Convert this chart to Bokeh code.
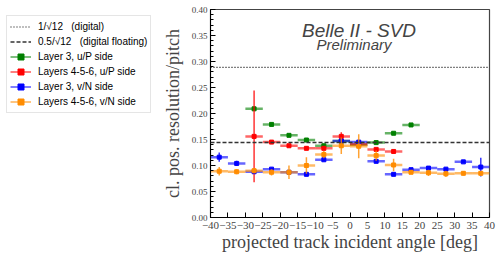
import numpy as np
from bokeh.plotting import figure
from bokeh.layouts import row
from bokeh.models import Span, Legend, LegendItem, Label, FixedTicker
from bokeh.embed import file_html
from bokeh.resources import INLINE

# ---------------- data ----------------
bin_half_width = 2.5

x_ticks = [-40, -35, -30, -25, -20, -15, -10, -5, 0, 5, 10, 15, 20, 25, 30, 35, 40]
y_ticks = [0.00, 0.05, 0.10, 0.15, 0.20, 0.25, 0.30, 0.35, 0.40]

digital = 1 / np.sqrt(12)
digital_floating = 0.5 / np.sqrt(12)

# Layer 3, u/P side (green)
l3u_x = [-27.5, -22.5, -17.5, -12.5, -7.5, -2.5, 2.5, 7.5, 12.5, 17.5]
l3u_y = [0.209, 0.179, 0.158, 0.149, 0.138, 0.147, 0.140, 0.144, 0.162, 0.178]
l3u_e = [0.003, 0.003, 0.002, 0.003, 0.002, 0.003, 0.002, 0.002, 0.002, 0.002]

# Layers 4-5-6, u/P side (red)
l456u_x = [-27.5, -22.5, -17.5, -12.5, -7.5, -2.5, 2.5, 7.5, 12.5]
l456u_y = [0.156, 0.145, 0.138, 0.133, 0.133, 0.156, 0.141, 0.131, 0.127]
l456u_e = [0.088, 0.003, 0.003, 0.003, 0.003, 0.008, 0.003, 0.003, 0.002]

# Layer 3, v/N side (blue)
l3v_x = [-37.5, -32.5, -27.5, -22.5, -17.5, -12.5, -7.5, -2.5,
         2.5, 7.5, 12.5, 17.5, 22.5, 27.5, 32.5, 37.5]
l3v_y = [0.116, 0.104, 0.088, 0.093, 0.087, 0.083, 0.111, 0.147,
         0.145, 0.108, 0.083, 0.092, 0.095, 0.093, 0.107, 0.097]
l3v_e = [0.009, 0.005, 0.003, 0.003, 0.003, 0.002, 0.003, 0.004,
         0.003, 0.003, 0.002, 0.003, 0.003, 0.003, 0.002, 0.018]

# Layers 4-5-6, v/N side (orange)
l456v_x = [-37.5, -32.5, -27.5, -22.5, -17.5, -12.5, -7.5, -2.5,
           2.5, 7.5, 12.5, 17.5, 22.5, 27.5, 32.5, 37.5]
l456v_y = [0.089, 0.088, 0.090, 0.087, 0.087, 0.100, 0.121, 0.138,
           0.137, 0.119, 0.101, 0.087, 0.086, 0.084, 0.085, 0.085]
l456v_e = [0.008, 0.005, 0.005, 0.006, 0.013, 0.016, 0.007, 0.016,
           0.023, 0.010, 0.012, 0.004, 0.006, 0.006, 0.004, 0.004]

series = [
    ("Layer 3, u/P side", "#008000", l3u_x, l3u_y, l3u_e),
    ("Layers 4-5-6, u/P side", "#ff0000", l456u_x, l456u_y, l456u_e),
    ("Layer 3, v/N side", "#0000ff", l3v_x, l3v_y, l3v_e),
    ("Layers 4-5-6, v/N side", "#ff8c00", l456v_x, l456v_y, l456v_e),
]

SERIF = "Liberation Serif"
SANS = "Liberation Sans"

# ---------------- main figure ----------------
p = figure(width=345, height=254, x_range=(-40, 40), y_range=(0, 0.4),
           output_backend="svg", toolbar_location=None,
           min_border_left=55, min_border_right=11, min_border_top=9,
           min_border_bottom=37)
p.xgrid.visible = False
p.ygrid.visible = False
p.outline_line_color = "#444444"
p.outline_line_width = 1.2

xa = p.xaxis[0]
xa.ticker = FixedTicker(ticks=x_ticks)
xa.major_label_overrides = {t: (f"\u2212{abs(t)}" if t < 0 else str(t)) for t in x_ticks}
xa.major_tick_in = 5
xa.major_tick_out = 0
xa.minor_tick_line_color = None
xa.major_label_text_font = SERIF
xa.major_label_text_font_size = "11px"
xa.major_label_standoff = 4
xa.axis_label = "projected track incident angle [deg]"
xa.axis_label_text_font = SERIF
xa.axis_label_text_font_size = "18px"
xa.axis_label_text_font_style = "normal"
xa.axis_label_standoff = 0

ya = p.yaxis[0]
minor = [round(v, 3) for v in np.arange(0.0, 0.4001, 0.01)]
ya.ticker = FixedTicker(ticks=y_ticks, minor_ticks=minor)
ya.major_label_overrides = {t: f"{t:.2f}" for t in y_ticks}
ya.major_tick_in = 5
ya.major_tick_out = 0
ya.minor_tick_in = 3
ya.minor_tick_out = 0
ya.major_label_text_font = SERIF
ya.major_label_text_font_size = "9px"
ya.major_label_standoff = 3
ya.axis_label = "cl. pos. resolution/pitch"
ya.axis_label_text_font = SERIF
ya.axis_label_text_font_size = "18px"
ya.axis_label_text_font_style = "normal"
ya.axis_label_standoff = 6

# reference lines
p.add_layout(Span(location=digital, dimension="width", line_color="black",
                  line_width=1.2, line_dash="1 2"))
p.add_layout(Span(location=digital_floating, dimension="width", line_color="#333333",
                  line_width=1.5, line_dash="4 2"))

for name, col, xs, ys, es in series:
    xs = np.array(xs); ys = np.array(ys); es = np.array(es)
    p.segment(x0=xs - bin_half_width, x1=xs + bin_half_width, y0=ys, y1=ys,
              line_color=col, line_width=2.5, line_alpha=0.6)
    p.segment(x0=xs, x1=xs, y0=ys - es, y1=ys + es,
              line_color=col, line_width=1.5, line_alpha=0.8)
    p.scatter(x=xs, y=ys, marker="square", size=4, color=col)

p.add_layout(Label(x=2.6, y=0.3596, text="Belle II - SVD", text_font=SANS,
                   text_font_size="19px", text_font_style="italic",
                   text_align="center", text_baseline="middle"))
p.add_layout(Label(x=1.15, y=0.332, text="Preliminary", text_font=SANS,
                   text_font_size="15px", text_font_style="italic",
                   text_align="center", text_baseline="middle"))

# ---------------- legend panel ----------------
lf = figure(width=155, height=254, x_range=(0, 1), y_range=(0, 1),
            x_axis_type=None, y_axis_type=None, output_backend="svg",
            toolbar_location=None, min_border_left=0, min_border_right=0,
            min_border_top=8, min_border_bottom=0)
lf.xgrid.visible = False
lf.ygrid.visible = False
lf.outline_line_color = None

nan = [np.nan]
items = []
dot_r = lf.line(x=nan, y=nan, line_color="black", line_width=1.2, line_dash="1 2")
dash_r = lf.line(x=nan, y=nan, line_color="#333333", line_width=1.5, line_dash="4 2")
items.append(LegendItem(label="1/\u221a12   (digital)", renderers=[dot_r]))
items.append(LegendItem(label="0.5/\u221a12   (digital floating)", renderers=[dash_r]))
for name, col, xs, ys, es in series:
    lg_h = lf.line(x=nan, y=nan, line_color=col, line_width=2, line_alpha=0.5)
    lg_v = lf.scatter(x=nan, y=nan, marker="cross", line_color=col, line_width=1.5,
                      line_alpha=0.5)
    lg_m = lf.scatter(x=nan, y=nan, marker="square", color=col, size=3)
    items.append(LegendItem(label=name, renderers=[lg_h, lg_v, lg_m]))

legend = Legend(items=items, location="top_left", margin=6, padding=3,
                spacing=0, glyph_width=21, glyph_height=15, label_height=15,
                label_standoff=7, label_text_font=SANS, label_text_font_size="10px",
                label_text_color="black",
                border_line_color="#cccccc", border_line_width=1,
                background_fill_color="white", background_fill_alpha=1.0)
lf.add_layout(legend)

layout = row(lf, p)
open("out.html", "w").write(file_html(layout, INLINE))
